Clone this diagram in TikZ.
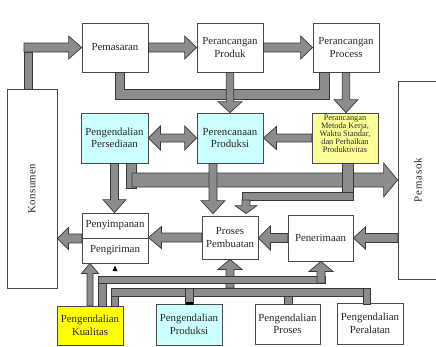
\documentclass[tikz,border=0pt]{standalone}
\usepackage{fontspec}
\setmainfont{Liberation Serif}
\usetikzlibrary{calc}
\definecolor{cyanbox}{HTML}{CCFFFF}
\definecolor{ylwlight}{HTML}{FFFF99}
\definecolor{ylwbright}{HTML}{FFFF00}
\definecolor{arrowgrey}{HTML}{8C8C8C}
\definecolor{edgegrey}{HTML}{383838}
\definecolor{boxedge}{HTML}{4A4A4A}
\tikzset{
  box/.style={draw=boxedge, line width=0.8pt, fill=white, inner sep=0pt, align=center,
    font=\fontsize{10.8}{12.5}\selectfont, text=black!85},
  blk/.style={fill=arrowgrey, draw=edgegrey, line width=0.7pt},
}
% horizontal block arrow: from, tip, shaft half, head half, head length
\newcommand\hblk[5]{%
  \draw[blk] let \p1=#1, \p2=#2, \n1={(\x2>\x1)*2-1} in
    (\x1,{\y2+#3pt}) -- ({\x2-\n1*#5pt},{\y2+#3pt}) -- ({\x2-\n1*#5pt},{\y2+#4pt})
    -- (\x2,\y2) -- ({\x2-\n1*#5pt},{\y2-#4pt}) -- ({\x2-\n1*#5pt},{\y2-#3pt})
    -- (\x1,{\y2-#3pt}) -- cycle;}
% vertical block arrow: from, tip, shaft half, head half, head length
\newcommand\vblk[5]{%
  \draw[blk] let \p1=#1, \p2=#2, \n1={(\y2>\y1)*2-1} in
    ({\x2-#3pt},\y1) -- ({\x2-#3pt},{\y2-\n1*#5pt}) -- ({\x2-#4pt},{\y2-\n1*#5pt})
    -- (\x2,\y2) -- ({\x2+#4pt},{\y2-\n1*#5pt}) -- ({\x2+#3pt},{\y2-\n1*#5pt})
    -- ({\x2+#3pt},\y1) -- cycle;}
% horizontal double block arrow: left point, right point, shaft half, head half, head length
\newcommand\dblk[5]{%
  \draw[blk] let \p1=#1, \p2=#2 in
    (\x1,\y1) -- ({\x1+#5pt},{\y1+#4pt}) -- ({\x1+#5pt},{\y1+#3pt})
    -- ({\x2-#5pt},{\y1+#3pt}) -- ({\x2-#5pt},{\y1+#4pt}) -- (\x2,\y1)
    -- ({\x2-#5pt},{\y1-#4pt}) -- ({\x2-#5pt},{\y1-#3pt})
    -- ({\x1+#5pt},{\y1-#3pt}) -- ({\x1+#5pt},{\y1-#4pt}) -- cycle;}
\begin{document}
\begin{tikzpicture}[x=1pt,y=-1pt]
\useasboundingbox (0,0) rectangle (436,346);
\clip (0,0) rectangle (436,346);
\fill[white] (0,0) rectangle (436,346);

% ---------- nodes ----------
\node[box, minimum width=66, minimum height=49] (pem) at (115,47.5) {Pemasaran};
\node[box, minimum width=66, minimum height=49] (prod) at (230,47.5) {Perancangan\\Produk};
\node[box, minimum width=66, minimum height=49] (proc) at (346,47.5) {Perancangan\\Process};
\node[box, minimum width=50, minimum height=199] (kons) at (32,188.5) {};
\node[rotate=90, inner sep=0pt, font=\fontsize{10.8}{12.5}\selectfont\addfontfeatures{LetterSpace=3.5}, text=black!85] (konsT) at (kons.center) {Konsumen};
\node[box, minimum width=44, minimum height=198] (pmsk) at (420,180) {};
\node[rotate=90, inner sep=0pt, font=\fontsize{10.8}{12.5}\selectfont\addfontfeatures{LetterSpace=8}, text=black!85] (pmskT) at (418,180) {Pemasok};

\node[box, fill=cyanbox, minimum width=67, minimum height=50] (pers) at (114.5,138) {Pengendalian\\Persediaan};
\node[box, fill=cyanbox, minimum width=66, minimum height=50] (perenc) at (230,138) {Perencanaan\\Produksi};
\node[box, fill=ylwlight, minimum width=66, minimum height=50] (metoda) at (345,138) {};
\node[inner sep=0pt, align=center, font=\fontsize{8.3}{8}\selectfont, text=black!85] (metodaT) at (345,133.5)
  {Perancangan\\Metoda Kerja,\\Waktu Standar,\\dan Perbaikan\\Produktivitas};

\node[box, minimum width=66, minimum height=25] (simpan) at (115,225.5) {Penyimpanan};
\node[box, minimum width=66, minimum height=25] (kirim) at (115,250.5) {Pengiriman};
\node[box, minimum width=56, minimum height=43] (proses) at (230,237.5) {Proses\\Pembuatan};
\node[box, minimum width=65, minimum height=46] (terima) at (320.5,238) {Penerimaan};

\node[box, fill=ylwbright, minimum width=66, minimum height=39] (kual) at (90,325.5) {Pengendalian\\Kualitas};
\node[box, fill=cyanbox, minimum width=66, minimum height=41] (pprod) at (189,324.5) {Pengendalian\\Produksi};
\node[box, minimum width=65, minimum height=40] (pproses) at (287.5,324) {Pengendalian\\Proses};
\node[box, minimum width=66, minimum height=41] (pperal) at (370,323.5) {Pengendalian\\Peralatan};

% ---------- top row connectors ----------
\coordinate (kt) at (24,47.5);
\draw[blk] (24,52) rectangle (32,89);
\hblk{(kt)}{(pem.west)}{4.5}{11.5}{13}
\hblk{(pem.east)}{(prod.west)}{4.5}{11.5}{12}
\hblk{(prod.east)}{(proc.west)}{4.5}{11.5}{12}
\draw[blk] (115,72) -- (124,72) -- (124,89) -- (319,89) -- (319,72) -- (329,72)
  -- (329,99) -- (115,99) -- cycle;
\vblk{(prod.south)}{(perenc.north)}{3.7}{12}{11}
\vblk{(proc.south)}{(metoda.north -| proc.south)}{3.7}{12}{13}
\dblk{(pers.east)}{(perenc.west)}{4}{12}{12}
\hblk{(metoda.west)}{(perenc.east)}{4}{11.5}{13}

% ---------- middle connectors ----------
\vblk{(pers.south)}{(simpan.north -| pers.south)}{4}{11.5}{13}
\draw[blk] (126,163) rectangle (136,188);
\coordinate (bigt) at (132,180);
\hblk{(bigt)}{(pmsk.west)}{7}{17}{14}
\vblk{([xshift=-17pt]perenc.south)}{([xshift=-17pt,yshift=2pt]proses.north)}{4}{12}{13}
\draw[blk] (342,163) rectangle (353,200);
\draw[blk] (242,192) rectangle (353,200);
\coordinate (sb) at (246,200);
\vblk{(sb)}{([xshift=16pt,yshift=2pt]proses.north)}{4}{11}{8}

\hblk{(pmsk.west |- terima.east)}{(terima.east)}{4.5}{11}{12}
\hblk{(terima.west)}{(proses.east |- terima.west)}{4.5}{12}{12}
\hblk{(proses.west)}{(simpan.east |- proses.west)}{4.5}{11}{13}
\hblk{(simpan.south west)}{(kons.east |- simpan.south west)}{4.5}{11}{11}

% ---------- bottom connectors ----------
\vblk{(kual.north)}{(kirim.south -| kual.north)}{3}{8.5}{10}
\coordinate (lb) at (230,288);
\vblk{(lb)}{(proses.south)}{4}{12}{10}
\draw[blk] (98,279) rectangle (106,306);
\draw[blk] (98,276) rectangle (325,283);
\coordinate (ub) at (321,283);
\vblk{(ub)}{([xshift=0.5pt]terima.south)}{4}{12}{10}
\draw[blk] (111,288) rectangle (118,306);
\draw[blk] (111,288) rectangle (370,296);
\draw[blk] (185,288) rectangle (193,304);
\draw[blk] (284,296) rectangle (292,304);
\draw[blk] (363,288) rectangle (370,304);
\fill[black] (186,302) rectangle (192.5,305);
\fill[black] (112.5,271) -- (117.5,271) -- (115,265.5) -- cycle;
\end{tikzpicture}
\end{document}
